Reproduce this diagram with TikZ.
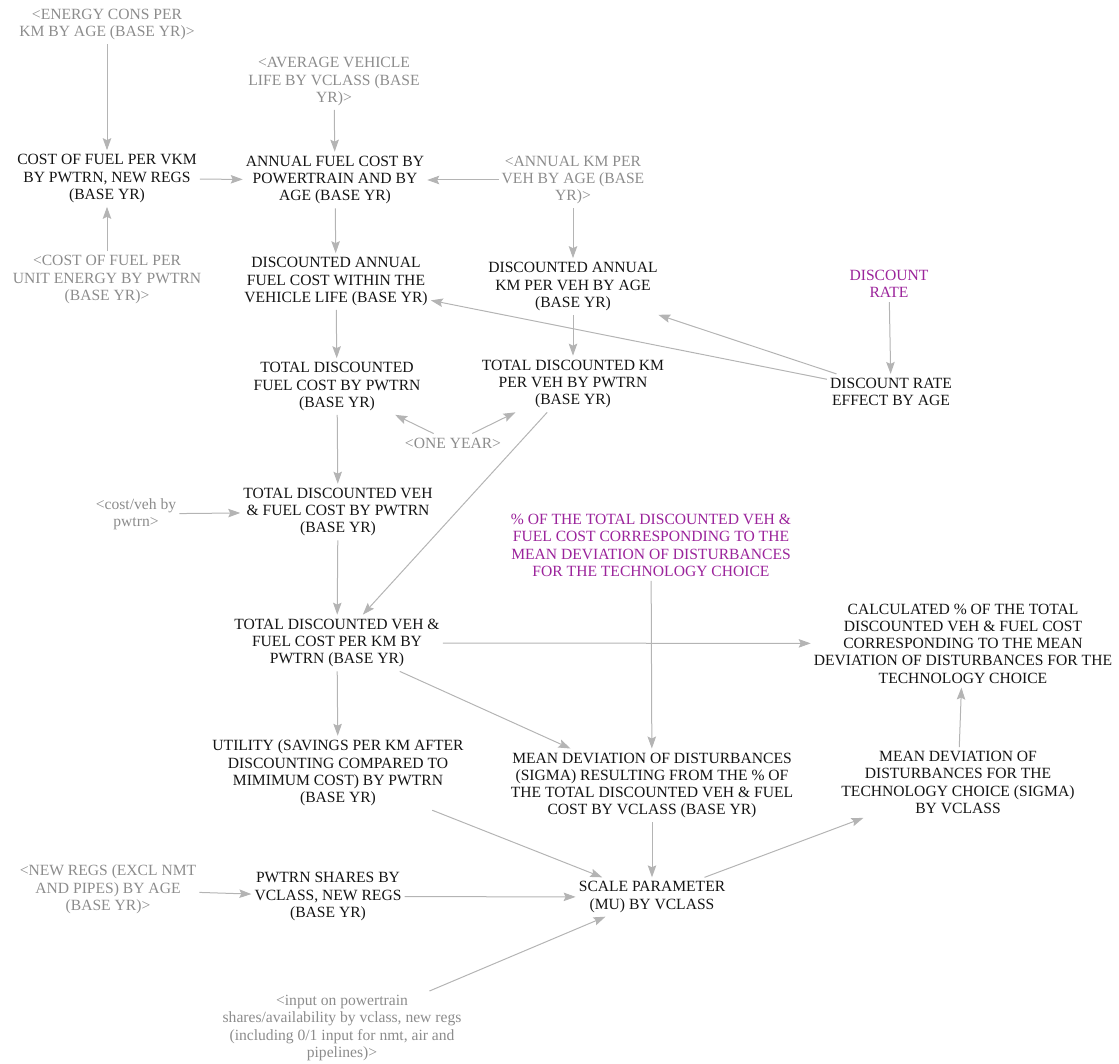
\documentclass[tikz,border=0pt]{standalone}
\usepackage{fontspec}
\setmainfont{Liberation Serif}
\usetikzlibrary{arrows.meta}
\definecolor{linegray}{RGB}{180,180,180}
\definecolor{txtgray}{RGB}{140,140,140}
\definecolor{vpurple}{RGB}{155,35,155}
\definecolor{txtblack}{RGB}{20,20,20}
\begin{document}
\begin{tikzpicture}[x=1pt,y=-1pt,
  var/.style={align=center, inner xsep=3pt, inner ysep=4pt,
    font=\fontsize{15.6}{17.3}\selectfont, text=txtblack},
  shadow/.style={var, text=txtgray},
  const/.style={var, text=vpurple},
  link/.style={draw=linegray, line width=1pt,
    -{Stealth[length=12pt,width=8.5pt,inset=2pt]}}]
\useasboundingbox (0,0) rectangle (1119,1064);

% nodes
\node[shadow] (energy) at (107,24.5) {<ENERGY CONS PER\\KM BY AGE (BASE YR)>};
\node[shadow] (avgLife) at (334,81.5) {<AVERAGE VEHICLE\\LIFE BY VCLASS (BASE\\YR)>};
\node[var] (costFuel) at (107,178.5) {COST OF FUEL PER VKM\\BY PWTRN, NEW REGS\\(BASE YR)};
\node[var] (annualFuel) at (335,180) {ANNUAL FUEL COST BY\\POWERTRAIN AND BY\\AGE (BASE YR)};
\node[shadow] (annualKm) at (573,180) {<ANNUAL KM PER\\VEH BY AGE (BASE\\YR)>};
\node[shadow] (costUnit) at (107,279.5) {<COST OF FUEL PER\\UNIT ENERGY BY PWTRN\\(BASE YR)>};
\node[var] (discFuel) at (336,281.5) {DISCOUNTED ANNUAL\\FUEL COST WITHIN THE\\VEHICLE LIFE (BASE YR)};
\node[var] (discKm) at (573,286.5) {DISCOUNTED ANNUAL\\KM PER VEH BY AGE\\(BASE YR)};
\node[const] (discRate) at (889,284) {DISCOUNT\\RATE};
\node[var] (totFuel) at (337,386.5) {TOTAL DISCOUNTED\\FUEL COST BY PWTRN\\(BASE YR)};
\node[var] (totKm) at (573,384) {TOTAL DISCOUNTED KM\\PER VEH BY PWTRN\\(BASE YR)};
\node[var] (discEffect) at (891,392) {DISCOUNT RATE\\EFFECT BY AGE};
\node[shadow] (oneYear) at (453,443) {<ONE YEAR>};
\node[shadow] (costVeh) at (136,514) {<cost/veh by\\pwtrn>};
\node[var] (totVehFuel) at (338,512) {TOTAL DISCOUNTED VEH\\\& FUEL COST BY PWTRN\\(BASE YR)};
\node[const] (pct) at (651,545.5) {\% OF THE TOTAL DISCOUNTED VEH \&\\FUEL COST CORRESPONDING TO THE\\MEAN DEVIATION OF DISTURBANCES\\FOR THE TECHNOLOGY CHOICE};
\node[var] (perKm) at (337,643) {TOTAL DISCOUNTED VEH \&\\FUEL COST PER KM BY\\PWTRN (BASE YR)};
\node[var] (calc) at (963,643.5) {CALCULATED \% OF THE TOTAL\\DISCOUNTED VEH \& FUEL COST\\CORRESPONDING TO THE MEAN\\DEVIATION OF DISTURBANCES FOR THE\\TECHNOLOGY CHOICE};
\node[var] (utility) at (338,773) {UTILITY (SAVINGS PER KM AFTER\\DISCOUNTING COMPARED TO\\MIMIMUM COST) BY PWTRN\\(BASE YR)};
\node[var] (meanDev) at (652,785.5) {MEAN DEVIATION OF DISTURBANCES\\(SIGMA) RESULTING FROM THE \% OF\\THE TOTAL DISCOUNTED VEH \& FUEL\\COST BY VCLASS (BASE YR)};
\node[var] (sigma) at (958,782.5) {MEAN DEVIATION OF\\DISTURBANCES FOR THE\\TECHNOLOGY CHOICE (SIGMA)\\BY VCLASS};
\node[shadow] (newRegs) at (108,889.5) {<NEW REGS (EXCL NMT\\AND PIPES) BY AGE\\(BASE YR)>};
\node[var] (shares) at (328,896.5) {PWTRN SHARES BY\\VCLASS, NEW REGS\\(BASE YR)};
\node[var] (scale) at (652,897) {SCALE PARAMETER\\(MU) BY VCLASS};
\node[shadow] (input) at (342,1028) {<input on powertrain\\shares/availability by vclass, new regs\\(including 0/1 input for nmt, air and\\pipelines)>};

% links
\draw[link] (energy) -- (costFuel);
\draw[link] (costUnit) -- (costFuel);
\draw[link] (costFuel) -- (annualFuel);
\draw[link] (avgLife) -- (annualFuel);
\draw[link] (annualKm) -- (annualFuel);
\draw[link] (annualFuel) -- (discFuel);
\draw[link] (annualKm) -- (discKm);
\draw[link] (discEffect) -- (discFuel);
\draw[link] (discEffect) -- (discKm);
\draw[link] (discRate) -- (discEffect);
\draw[link] (discFuel) -- (totFuel);
\draw[link] (discKm) -- (totKm);
\draw[link] (oneYear) -- (totFuel);
\draw[link] (oneYear) -- (totKm);
\draw[link] (totFuel) -- (totVehFuel);
\draw[link] (costVeh) -- (totVehFuel);
\draw[link] (totVehFuel) -- (perKm);
\draw[link] (totKm) -- (perKm);
\draw[link] (perKm) -- (calc);
\draw[link] (perKm) -- (meanDev);
\draw[link] (perKm) -- (utility);
\draw[link] (pct) -- (meanDev);
\draw[link] (meanDev) -- (scale);
\draw[link] (utility) -- (scale);
\draw[link] (shares) -- (scale);
\draw[link] (input) -- (scale);
\draw[link] (newRegs) -- (shares);
\draw[link] (scale) -- (sigma);
\draw[link] (sigma) -- (calc);
\end{tikzpicture}
\end{document}
